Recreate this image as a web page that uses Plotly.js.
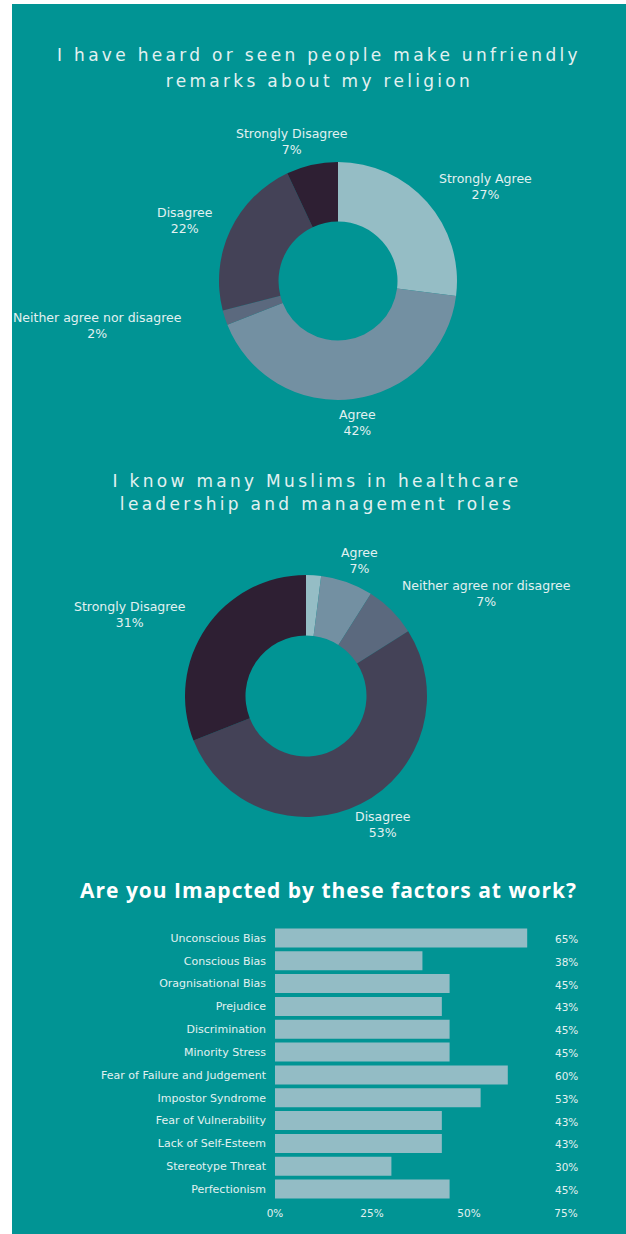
<!DOCTYPE html>
<html>
<head>
<meta charset="utf-8">
<script src="https://cdn.plot.ly/plotly-3.0.1.min.js"></script>
<style>
  html, body { margin: 0; padding: 0; background: #ffffff; }
  #chart { width: 626px; height: 1234px; }
</style>
</head>
<body>
<div id="chart"></div>
<script>
// ---------- Data ----------
const title1Lines = ['I have heard or seen people make unfriendly', 'remarks about my religion'];
const title2Lines = ['I know many Muslims in healthcare', 'leadership and management roles'];
const title3 = 'Are you Imapcted by these factors at work?';

const pieLabels = ['Strongly Agree', 'Agree', 'Neither agree nor disagree', 'Disagree', 'Strongly Disagree'];
const remarksValues = [27, 42, 2, 22, 7];
const leadersValues = [2, 7, 7, 53, 31];
const remarksShown = [true, true, true, true, true];
const leadersShown = [false, true, true, true, true];

const factors = ['Unconscious Bias', 'Conscious Bias', 'Oragnisational Bias', 'Prejudice', 'Discrimination',
  'Minority Stress', 'Fear of Failure and Judgement', 'Impostor Syndrome', 'Fear of Vulnerability',
  'Lack of Self-Esteem', 'Stereotype Threat', 'Perfectionism'];
const impacted = [65, 38, 45, 43, 45, 45, 60, 53, 43, 43, 30, 45];
const xTicks = [0, 25, 50, 75];
const xTickText = ['0%', '25%', '50%', '75%'];

// ---------- Styles ----------
const W = 626, H = 1234;
const teal = '#019494';
const pieColors = ['#95bdc5', '#7390a2', '#5b697e', '#444257', '#2e1f33'];
const barColor = '#93bcc5';
const lightText = '#e2f1f1';
const px = v => v / W;
const py = v => 1 - v / H;

const labelFamily = 'DejaVu Sans';
const labelSize = 12.5;
const pieFont = { family: labelFamily + ', Arial, sans-serif', size: labelSize, color: lightText };

const pie1 = { cx: 338, cy: 281, r: 119 };
const pie2 = { cx: 306, cy: 696, r: 121 };

function pieTrace(values, p) {
  return {
    type: 'pie',
    labels: pieLabels,
    values: values,
    sort: false,
    direction: 'clockwise',
    rotation: 0,
    hole: 0.5,
    marker: { colors: pieColors, line: { width: 0 } },
    textinfo: 'none',
    showlegend: false,
    hoverinfo: 'none',
    domain: { x: [px(p.cx - p.r), px(p.cx + p.r)], y: [py(p.cy + p.r), py(p.cy - p.r)] }
  };
}

const traces = [
  pieTrace(remarksValues, pie1),
  pieTrace(leadersValues, pie2),
  {
    type: 'bar',
    orientation: 'h',
    y: factors,
    x: impacted,
    marker: { color: barColor, line: { width: 0 } },
    xaxis: 'x',
    yaxis: 'y',
    showlegend: false,
    hoverinfo: 'none'
  }
];

// text measuring for outside slice labels
const ctx = document.createElement('canvas').getContext('2d');
ctx.font = labelSize + 'px "' + labelFamily + '"';

function pieLabelAnnotations(values, shown, p) {
  const total = values.reduce((a, b) => a + b, 0);
  let cum = 0;
  const out = [];
  values.forEach((v, i) => {
    const theta = 2 * Math.PI * (cum + v / 2) / total;
    cum += v;
    if (!shown[i]) return;
    const s = Math.sin(theta), c = Math.cos(theta);
    const line1 = pieLabels[i], line2 = v + '%';
    const hw = Math.max(ctx.measureText(line1).width, ctx.measureText(line2).width) / 2;
    const hh = labelSize * 1.4;
    const x = p.cx + s * (p.r + 8) + s * hw * 1.5;
    const y = p.cy - c * (p.r + 6) - c * hh;
    out.push({
      text: line1 + '<br>' + line2, x: px(x), y: py(y), xref: 'paper', yref: 'paper',
      showarrow: false, xanchor: 'center', yanchor: 'middle', align: 'center',
      font: pieFont
    });
  });
  return out;
}

const annotations = [];
const spacedIdx = [];
title1Lines.forEach((t, i) => {
  spacedIdx.push(annotations.length);
  annotations.push({ text: t, x: px(319), y: py(55 + i * 26), xref: 'paper', yref: 'paper', showarrow: false,
    xanchor: 'center', yanchor: 'middle',
    font: { family: 'DejaVu Sans, sans-serif', size: 17, color: lightText } });
});
title2Lines.forEach((t, i) => {
  spacedIdx.push(annotations.length);
  annotations.push({ text: t, x: px(317), y: py(481 + i * 23), xref: 'paper', yref: 'paper', showarrow: false,
    xanchor: 'center', yanchor: 'middle',
    font: { family: 'DejaVu Sans, sans-serif', size: 17, color: lightText } });
});
const boldIdx = annotations.length;
annotations.push({ text: '<b>' + title3 + '</b>', x: px(328), y: py(890), xref: 'paper', yref: 'paper', showarrow: false,
  xanchor: 'center', yanchor: 'middle',
  font: { family: 'Open Sans, sans-serif', size: 21, color: '#ffffff' } });

pieLabelAnnotations(remarksValues, remarksShown, pie1).forEach(a => annotations.push(a));
pieLabelAnnotations(leadersValues, leadersShown, pie2).forEach(a => annotations.push(a));

impacted.forEach((v, i) => {
  annotations.push({
    text: v + '%', x: 75, y: factors[i], xref: 'x', yref: 'y', showarrow: false,
    xanchor: 'center', yanchor: 'middle', yshift: -1,
    font: { family: 'DejaVu Sans, sans-serif', size: 10.5, color: lightText }
  });
});

const layout = {
  width: W,
  height: H,
  margin: { l: 0, r: 0, t: 0, b: 0 },
  paper_bgcolor: '#ffffff',
  plot_bgcolor: 'rgba(0,0,0,0)',
  showlegend: false,
  bargap: 0.17,
  shapes: [
    { type: 'rect', xref: 'paper', yref: 'paper', x0: px(12), x1: 1, y0: 0, y1: py(4),
      fillcolor: teal, line: { width: 0 }, layer: 'below' }
  ],
  xaxis: {
    domain: [px(275), px(566)],
    range: [0, 75],
    tickvals: xTicks,
    ticktext: xTickText,
    showgrid: false,
    zeroline: false,
    showline: false,
    ticks: '',
    ticklabelstandoff: 5,
    fixedrange: true,
    anchor: 'y',
    tickfont: { family: 'DejaVu Sans, sans-serif', size: 10.5, color: lightText }
  },
  yaxis: {
    domain: [py(1200.5), py(926.5)],
    autorange: 'reversed',
    type: 'category',
    showgrid: false,
    zeroline: false,
    showline: false,
    ticks: '',
    ticklabelstandoff: 8,
    fixedrange: true,
    anchor: 'x',
    tickfont: { family: 'DejaVu Sans, sans-serif', size: 11, color: lightText }
  },
  annotations: annotations
};

Plotly.newPlot('chart', traces, layout, { displayModeBar: false, staticPlot: true }).then(() => {
  spacedIdx.forEach(i => {
    document.querySelectorAll('.annotation[data-index="' + i + '"] text').forEach(t => {
      t.style.letterSpacing = '3.3px';
    });
  });
  document.querySelectorAll('.annotation[data-index="' + boldIdx + '"] text').forEach(t => {
    t.style.letterSpacing = '1px';
  });
});
</script>
</body>
</html>
